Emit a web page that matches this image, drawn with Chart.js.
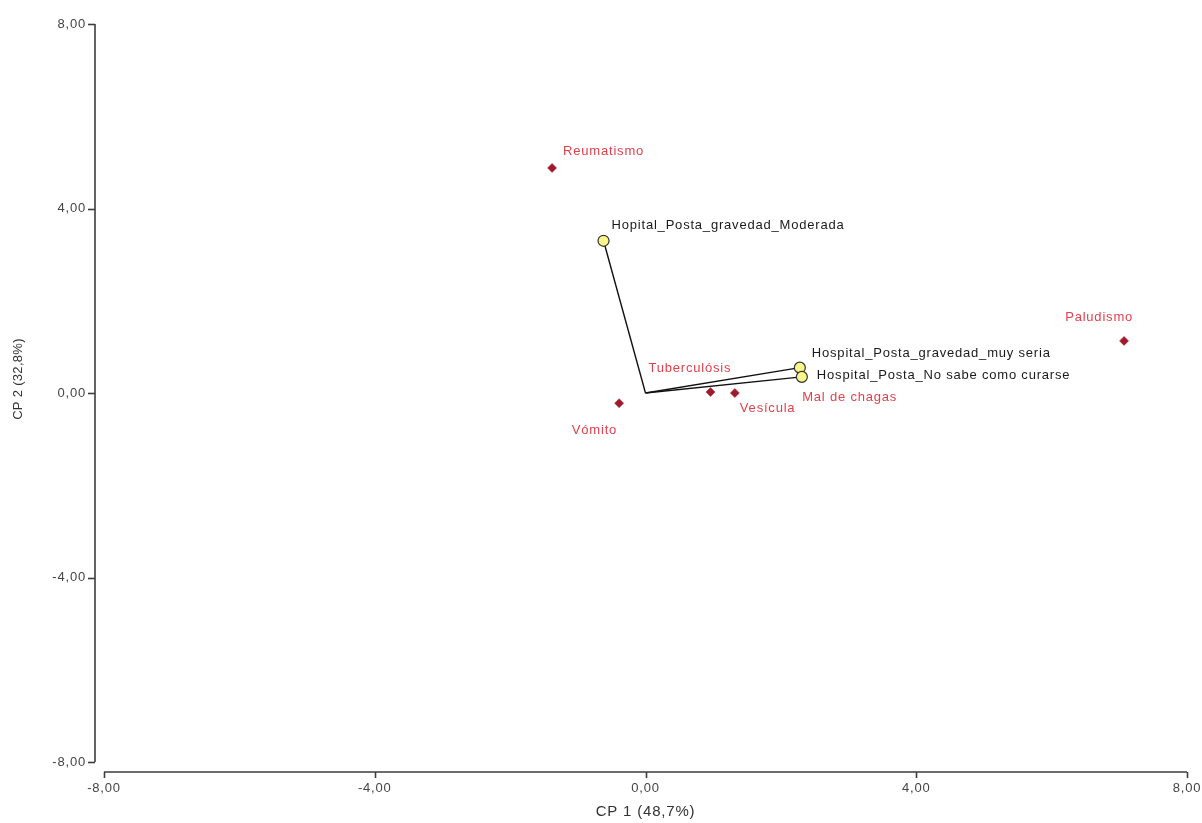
<!DOCTYPE html>
<html><head><meta charset="utf-8">
<script src="https://cdn.jsdelivr.net/npm/chart.js@4/dist/chart.umd.min.js"></script>
<style>html,body{margin:0;padding:0;background:#fff;}canvas{display:block;}</style>
</head><body>
<canvas id="c" width="1202" height="823" style="width:1202px;height:823px"></canvas>
<script>
// ---- data ----
const hospitalNames = ['Hopital_Posta_gravedad_Moderada', 'Hospital_Posta_gravedad_muy seria', 'Hospital_Posta_No sabe como curarse'];
const hospitalCP1 = [-0.62, 2.28, 2.31];
const hospitalCP2 = [3.30, 0.55, 0.35];

const diseaseNames = ['Reumatismo', 'Paludismo', 'Tuberculósis', 'Vesícula', 'Vómito', 'Mal de chagas'];
const diseaseCP1 = [-1.38, 7.07, 0.96, 1.32, -0.39, 2.30];
const diseaseCP2 = [4.88, 1.13, 0.02, 0.00, -0.22, 0.34];

const tickValues = [-8, -4, 0, 4, 8];
const tickLabels = ['-8,00', '-4,00', '0,00', '4,00', '8,00'];
const xTitle = 'CP 1 (48,7%)';
const yTitle = 'CP 2 (32,8%)';

// label placement (pixel offsets from the marker, alignment)
const hospitalLabelPlace = [[8, -15, 'left'], [12, -14, 'left'], [15, -1, 'left']];
const diseaseLabelPlace = [[11, -16, 'left'], [9, -23, 'right'], [-62, -24, 'left'], [5, 15, 'left'], [-2, 27, 'right'], [1, 20, 'left']];

// ---- styling ----
const FONT = '"Liberation Sans", Arial, sans-serif';
const SPACING = '0.8px';
const AXIS_COLOR = '#3c3c3c';

const hospitalPoints = hospitalCP1.map((x, i) => ({x: x, y: hospitalCP2[i]}));
const diseasePoints = diseaseCP1.map((x, i) => ({x: x, y: diseaseCP2[i]}));

const vectorDatasets = hospitalPoints.map(p => ({
  data: [{x: 0, y: 0}, p],
  showLine: true,
  borderColor: '#111',
  borderWidth: 1.4,
  pointRadius: 0,
  pointHoverRadius: 0,
  order: 2
}));

const datasets = [
  {
    data: hospitalPoints,
    pointStyle: 'circle',
    pointRadius: 5.5,
    pointBackgroundColor: '#f8f58a',
    pointBorderColor: '#333',
    pointBorderWidth: 1.2,
    showLine: false,
    order: 0,
    labelNames: hospitalNames,
    labelPlace: hospitalLabelPlace,
    labelColor: '#1a1a1a'
  },
  {
    data: diseasePoints,
    pointStyle: 'rectRot',
    pointRadius: 4.5,
    pointBackgroundColor: '#a11a2c',
    pointBorderColor: '#a11a2c',
    pointBorderWidth: 0.5,
    showLine: false,
    order: 1,
    labelNames: diseaseNames,
    labelPlace: diseaseLabelPlace,
    labelColor: '#e2404c'
  },
  ...vectorDatasets
];

const decor = {
  id: 'decor',
  beforeUpdate(chart) { chart.ctx.letterSpacing = SPACING; },
  beforeDraw(chart) { chart.ctx.letterSpacing = SPACING; },
  beforeDatasetsDraw(chart) {
    const {ctx, chartArea, scales} = chart;
    const xs = scales.x, ys = scales.y;
    ctx.save();
    ctx.strokeStyle = AXIS_COLOR;
    ctx.lineWidth = 1.6;
    const ax = chartArea.left - 9;
    ctx.beginPath();
    ctx.moveTo(ax, ys.getPixelForValue(tickValues[tickValues.length - 1]));
    ctx.lineTo(ax, ys.getPixelForValue(tickValues[0]));
    ctx.stroke();
    tickValues.forEach(v => {
      const py = Math.round(ys.getPixelForValue(v)) + 0.5;
      ctx.beginPath(); ctx.moveTo(ax - 7, py); ctx.lineTo(ax, py); ctx.stroke();
    });
    const ay = chartArea.bottom + 10;
    ctx.beginPath();
    ctx.moveTo(xs.getPixelForValue(tickValues[0]), ay);
    ctx.lineTo(xs.getPixelForValue(tickValues[tickValues.length - 1]), ay);
    ctx.stroke();
    tickValues.forEach(v => {
      const px = Math.round(xs.getPixelForValue(v)) + 0.5;
      ctx.beginPath(); ctx.moveTo(px, ay); ctx.lineTo(px, ay + 6); ctx.stroke();
    });
    ctx.restore();
  },
  afterDatasetsDraw(chart) {
    const ctx = chart.ctx;
    ctx.save();
    ctx.letterSpacing = SPACING;
    ctx.font = '13px ' + FONT;
    ctx.textBaseline = 'middle';
    chart.data.datasets.forEach((ds, di) => {
      if (!ds.labelNames) return;
      const meta = chart.getDatasetMeta(di);
      ctx.fillStyle = ds.labelColor;
      meta.data.forEach((el, j) => {
        const [dx, dy, align] = ds.labelPlace[j];
        ctx.textAlign = align;
        ctx.fillText(ds.labelNames[j], el.x + dx, el.y + dy);
      });
    });
    ctx.restore();
  },
  afterDraw(chart) {
    const {ctx, chartArea} = chart;
    ctx.save();
    ctx.letterSpacing = '0.3px';
    ctx.font = '13px ' + FONT;
    ctx.fillStyle = '#333';
    ctx.textAlign = 'center';
    ctx.textBaseline = 'middle';
    ctx.translate(18, (chartArea.top + chartArea.bottom) / 2 - 14);
    ctx.rotate(-Math.PI / 2);
    ctx.fillText(yTitle, 0, 0);
    ctx.restore();
  }
};

const tickCallback = v => {
  const i = tickValues.indexOf(v);
  return i >= 0 ? tickLabels[i] : '';
};
const setTicks = scale => { scale.ticks = tickValues.map(v => ({value: v})); };

new Chart(document.getElementById('c'), {
  type: 'scatter',
  data: {datasets: datasets},
  options: {
    responsive: false,
    devicePixelRatio: 1,
    animation: false,
    events: [],
    layout: {padding: {top: 24, right: 15, left: 0, bottom: 0}},
    plugins: {legend: {display: false}, tooltip: {enabled: false}},
    scales: {
      x: {
        type: 'linear', position: 'bottom', min: -8, max: 8,
        grid: {display: false, drawTicks: false},
        border: {display: false},
        afterBuildTicks: setTicks,
        afterFit: s => { s.height = 61; s.paddingRight = 0; s.paddingLeft = 0; },
        ticks: {callback: tickCallback, padding: 19, color: '#444', font: {family: FONT, size: 13}, maxRotation: 0, autoSkip: false},
        title: {display: true, text: xTitle, color: '#333', font: {family: FONT, size: 15}, padding: {top: 0, bottom: 2}}
      },
      y: {
        type: 'linear', position: 'left', min: -8, max: 8,
        grid: {display: false, drawTicks: false},
        border: {display: false},
        afterBuildTicks: setTicks,
        afterFit: s => { s.width = 104; s.paddingTop = 0; s.paddingBottom = 0; },
        ticks: {callback: tickCallback, padding: 18, color: '#444', font: {family: FONT, size: 13}, autoSkip: false}
      }
    }
  },
  plugins: [decor]
});
</script>
</body></html>
